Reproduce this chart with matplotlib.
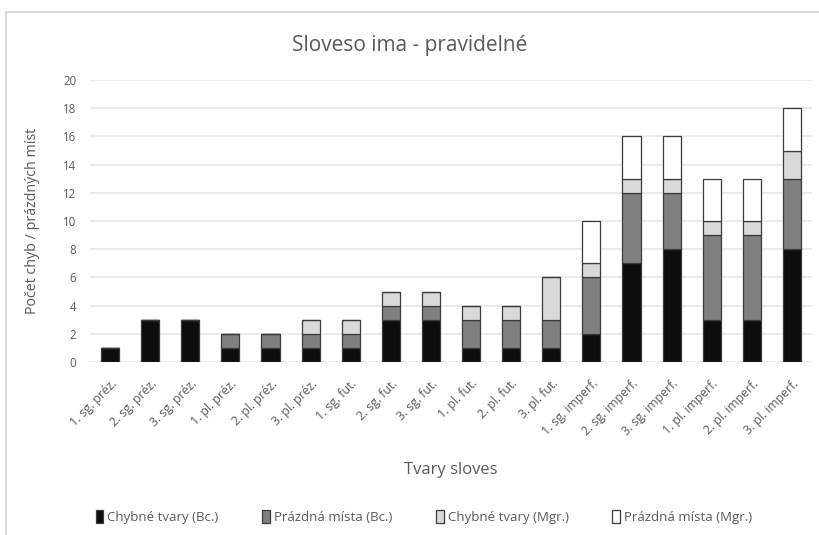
import matplotlib
matplotlib.use("Agg")
import matplotlib.pyplot as plt
import numpy as np
from matplotlib.patches import Rectangle

categories = [
    "1. sg. préz.", "2. sg. préz.", "3. sg. préz.",
    "1. pl. préz.", "2. pl. préz.", "3. pl. préz.",
    "1. sg. fut.", "2. sg. fut.", "3. sg. fut.",
    "1. pl. fut.", "2. pl. fut.", "3. pl. fut.",
    "1. sg. imperf.", "2. sg. imperf.", "3. sg. imperf.",
    "1. pl. imperf.", "2. pl. imperf.", "3. pl. imperf.",
]
chybne_bc = [1, 3, 3, 1, 1, 1, 1, 3, 3, 1, 1, 1, 2, 7, 8, 3, 3, 8]
prazdna_bc = [0, 0, 0, 1, 1, 1, 1, 1, 1, 2, 2, 2, 4, 5, 4, 6, 6, 5]
chybne_mgr = [0, 0, 0, 0, 0, 1, 1, 1, 1, 1, 1, 3, 1, 1, 1, 1, 1, 2]
prazdna_mgr = [0, 0, 0, 0, 0, 0, 0, 0, 0, 0, 0, 0, 3, 3, 3, 3, 3, 3]
series_names = ["Chybné tvary (Bc.)", "Prázdná místa (Bc.)",
                "Chybné tvary (Mgr.)", "Prázdná místa (Mgr.)"]
y_ticks = list(range(0, 21, 2))

plt.rcParams["font.family"] = ["Open Sans", "DejaVu Sans"]
text_color = "#595959"

fig = plt.figure(figsize=(8.19, 5.35), dpi=100)
fig.patch.set_facecolor("white")

# chart frame
fig.add_artist(Rectangle((6 / 819, -0.05), 1.2, (535 - 12) / 535 + 0.05,
                         transform=fig.transFigure, fill=False,
                         edgecolor="#d0d0d0", linewidth=1.2))

ax = fig.add_axes([90 / 819, 173 / 535, 722 / 819, 282 / 535])
x = np.arange(len(categories))
series = [chybne_bc, prazdna_bc, chybne_mgr, prazdna_mgr]
colors = ["#0d0d0d", "#808080", "#d9d9d9", "#ffffff"]
bottom = np.zeros(len(categories))
handles = []
for vals, col, name in zip(series, colors, series_names):
    v = np.array(vals, dtype=float)
    h = ax.bar(x, v, 0.45, bottom=bottom, color=col, edgecolor="#3a3a3a",
               linewidth=0.9, label=name, zorder=3)
    handles.append(h)
    bottom += v

ax.set_xlim(-0.5, len(categories) - 0.5)
ax.set_ylim(0, 20)
ax.set_yticks(y_ticks)
ax.yaxis.grid(True, color="#e6e6e6", linewidth=1.2, zorder=0)
for s in ax.spines.values():
    s.set_visible(False)
ax.tick_params(axis="both", length=0, colors=text_color)
ax.tick_params(axis="y", pad=10, labelsize=8.3)
ax.tick_params(axis="x", pad=11, labelsize=8.8)
ax.set_xticks(x)
ax.set_xticklabels(categories, rotation=45, ha="right", rotation_mode="anchor")

fig.text(410 / 819, 1 - 45 / 535, "Sloveso ima - pravidelné", color=text_color,
         fontsize=15, ha="center", va="center")
ax.set_xlabel("Tvary sloves", color=text_color, fontsize=12, labelpad=17)
ax.yaxis.set_label_coords(-50 / 722, 0.5)
ax.set_ylabel("Počet chyb / prázdných míst", color=text_color, fontsize=10.3)

fig.legend(handles=handles, labels=series_names, loc="center",
           bbox_to_anchor=(424 / 819, 1 - 517 / 535), ncol=4, frameon=False,
           fontsize=9.5, labelcolor=text_color, handlelength=0.6,
           handleheight=1.2, handletextpad=0.3, columnspacing=3.3)

fig.savefig("out.png", dpi=100)
